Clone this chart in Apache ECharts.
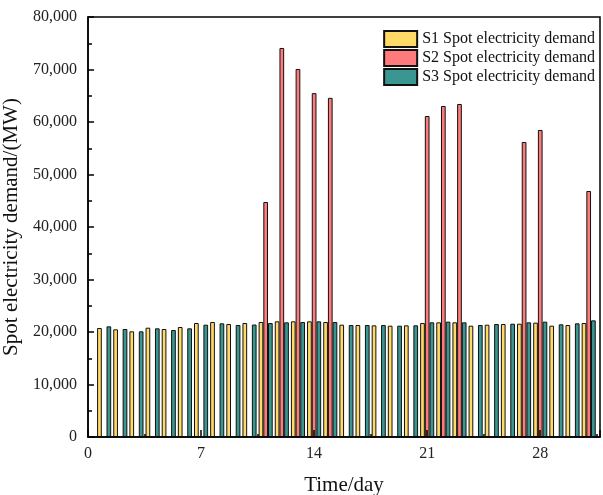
<!DOCTYPE html>
<html>
<head>
<meta charset="utf-8">
<script src="https://cdn.jsdelivr.net/npm/echarts@6/dist/echarts.min.js"></script>
<style>html,body{margin:0;padding:0;background:#fff}#c{width:603px;height:495px}</style>
</head>
<body>
<div id="c"></div>
<script>
var days = [1,2,3,4,5,6,7,8,9,10,11,12,13,14,15,16,17,18,19,20,21,22,23,24,25,26,27,28,29,30,31];
var s1 = [20760,20510,20130,20820,20570,20950,21710,21900,21520,21710,21900,22030,22030,22030,21900,21390,21330,21270,21200,21270,21710,21840,21840,21200,21390,21520,21580,21780,21200,21330,21710];
var s2 = [null,null,null,null,null,null,null,null,null,null,44760,74100,70100,65500,64600,null,null,null,null,null,61140,63050,63430,null,null,null,56190,58480,null,null,46860];
var s3 = [21080,20570,20130,20700,20380,20700,21390,21650,21330,21420,21710,21840,21900,22030,21900,21330,21330,21330,21200,21270,21840,21970,21840,21330,21520,21580,21840,21970,21460,21650,22220];
var seriesNames = ['S1 Spot electricity demand','S2 Spot electricity demand','S3 Spot electricity demand'];
var xTicks = [0,7,14,21,28];

function pairs(vals){ return days.map(function(d,i){ return [d, vals[i]]; }); }
var font = 'Liberation Serif';
var chart = echarts.init(document.getElementById('c'));
var colors = ['#ffda66','#ff7b7b','#3a9690'];
var data = [s1, s2, s3];
chart.setOption({
  animation:false,
  textStyle:{fontFamily:font},
  grid:{left:88,right:3,top:17,bottom:58,show:true,borderColor:'#000',borderWidth:1.5,backgroundColor:'transparent',
        containLabel:false, outerBoundsMode:'none'},
  legend:{
    orient:'vertical', right:3, top:25, itemWidth:33, itemHeight:16, itemGap:1,
    icon:'rect',
    textStyle:{fontFamily:font,fontSize:16,color:'#111'},
    data:seriesNames
  },
  xAxis:{
    type:'value', min:0, max:31.7, interval:7, z:5,
    name:'Time/day', nameLocation:'middle', nameGap:38,
    nameTextStyle:{fontFamily:font,fontSize:21,color:'#111'},
    axisLine:{show:true,onZero:false,lineStyle:{color:'#000',width:1.5}},
    axisTick:{show:true,inside:true,length:7,lineStyle:{color:'#000',width:1.5}},
    minorTick:{show:true,splitNumber:2,length:3,lineStyle:{color:'#000',width:1.5}},
    splitLine:{show:false},
    axisLabel:{fontFamily:font,fontSize:16,color:'#222',margin:9,
      formatter:function(v){ return xTicks.indexOf(v) >= 0 ? String(v) : ''; }}
  },
  yAxis:{
    type:'value', min:0, max:80000, interval:10000, z:5,
    name:'Spot electricity demand/(MW)', nameLocation:'middle', nameGap:66,
    nameTextStyle:{fontFamily:font,fontSize:21,color:'#111'},
    axisLine:{show:true,lineStyle:{color:'#000',width:1.5}},
    axisTick:{show:true,inside:true,length:6,lineStyle:{color:'#000',width:1.5}},
    minorTick:{show:true,splitNumber:2,length:4,lineStyle:{color:'#000',width:1.5}},
    splitLine:{show:false},
    axisLabel:{fontFamily:font,fontSize:16,color:'#222',margin:11,
      formatter:function(v){ return v.toLocaleString('en-US'); }}
  },
  series: seriesNames.map(function(n,k){
    return {
      name:n, type:'bar', data:pairs(data[k]),
      barWidth:4.7, barGap:'0%',
      itemStyle:{color:colors[k],borderColor:'#111',borderWidth:1}
    };
  })
});
</script>
</body>
</html>
